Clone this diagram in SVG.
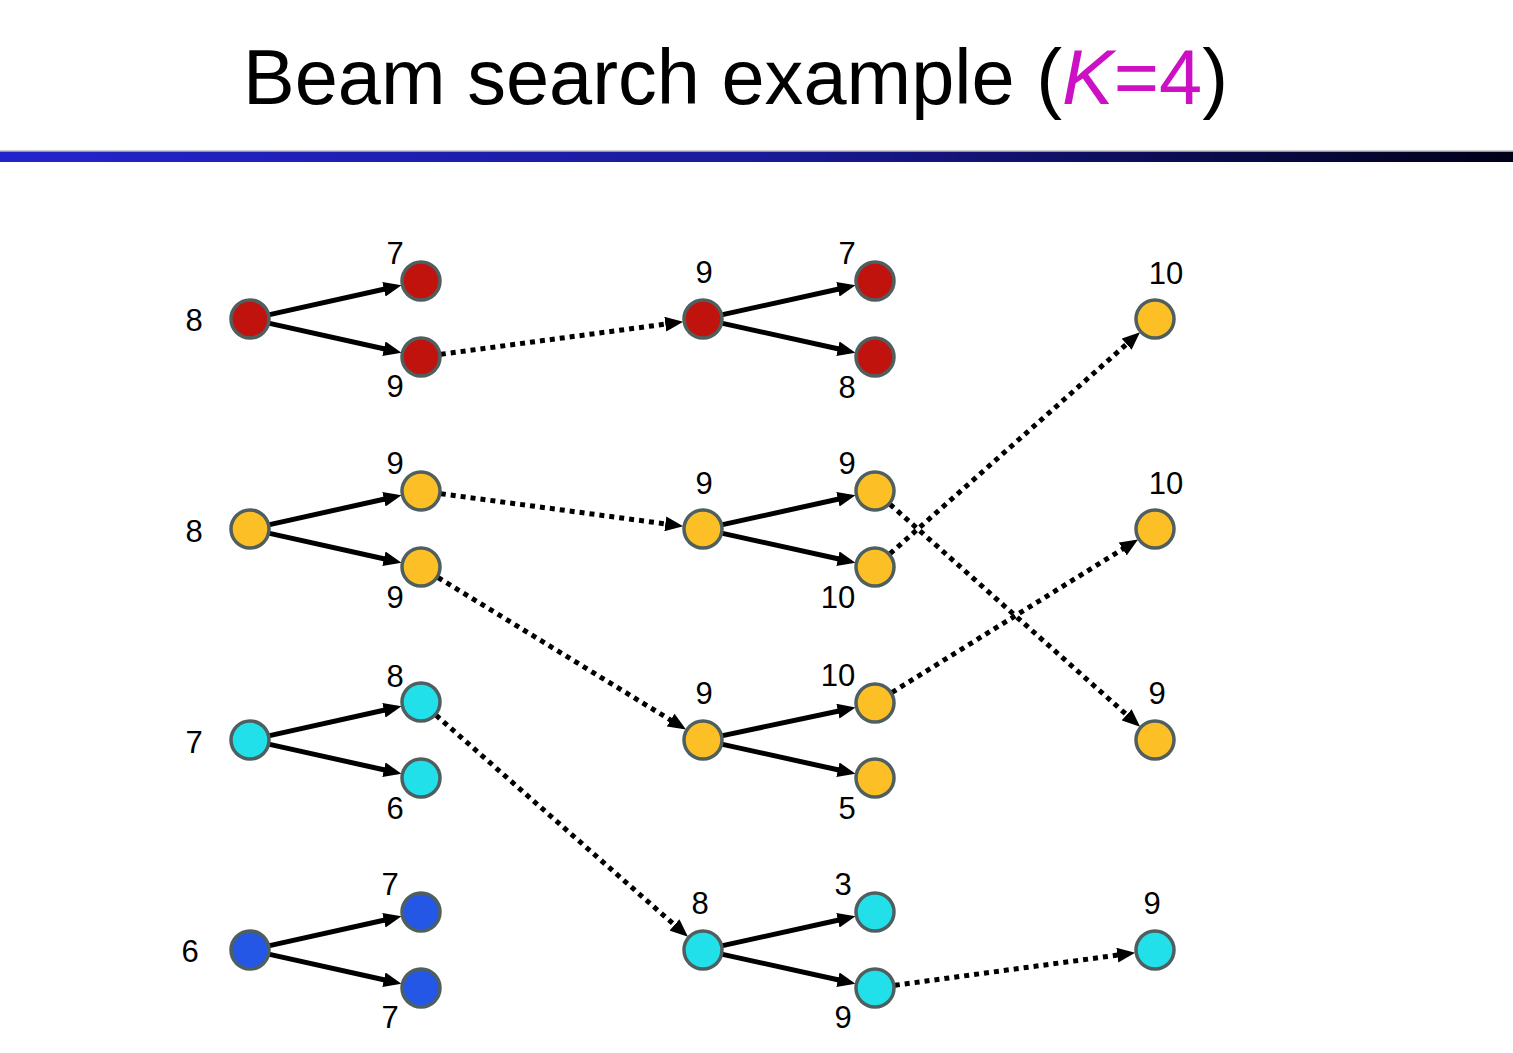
<svg xmlns="http://www.w3.org/2000/svg" width="1513" height="1053" viewBox="0 0 1513 1053">
<defs>
<linearGradient id="bar" x1="0" y1="0" x2="1" y2="0">
<stop offset="0" stop-color="#2424cc"/>
<stop offset="0.5" stop-color="#1a1a9a"/>
<stop offset="1" stop-color="#000018"/>
</linearGradient>
<marker id="ah" markerUnits="userSpaceOnUse" markerWidth="19" markerHeight="15" refX="1" refY="7.5" orient="auto">
<path d="M0,0 L18,7.5 L0,15 z" fill="#000"/>
</marker>
</defs>
<style>
.title{font-family:"Liberation Sans",Arial,sans-serif;font-size:77px;fill:#000}
.k{fill:#cc10c4}
.lbl{font-family:"Liberation Sans",Arial,sans-serif;font-size:31px;fill:#000;text-anchor:middle}
.n{stroke:#4f5f5f;stroke-width:3.5}
.red{fill:#c1130e}
.yel{fill:#fcc026}
.cyan{fill:#22e0ea}
.blue{fill:#2457e6}
.solid{fill:none;stroke:#000;stroke-width:5;marker-end:url(#ah)}
.dot{fill:none;stroke:#000;stroke-width:5;stroke-dasharray:5 5;marker-end:url(#ah)}
</style>
<rect width="1513" height="1053" fill="#fff"/>
<text class="title" x="243" y="104" textLength="985" lengthAdjust="spacingAndGlyphs">Beam search example (<tspan class="k" font-style="italic">K</tspan><tspan class="k">=4</tspan>)</text>
<rect x="0" y="150.5" width="1513" height="1.5" fill="#999"/>
<rect x="0" y="152" width="1513" height="10" fill="url(#bar)"/>

<g id="connectors">
<path class="solid" d="M268.5,314.9 L384.9,289"/>
<path class="solid" d="M268.5,323.1 L384.9,349"/>
<path class="solid" d="M268.5,524.9 L384.9,499"/>
<path class="solid" d="M268.5,533.1 L384.9,559"/>
<path class="solid" d="M268.5,735.9 L384.9,710"/>
<path class="solid" d="M268.5,744.1 L384.9,770"/>
<path class="solid" d="M268.5,945.9 L384.9,920"/>
<path class="solid" d="M268.5,954.1 L384.9,980"/>
<path class="solid" d="M721.5,314.9 L838.9,289"/>
<path class="solid" d="M721.5,323.1 L838.9,349"/>
<path class="solid" d="M721.5,524.9 L838.9,499"/>
<path class="solid" d="M721.5,533.1 L838.9,559"/>
<path class="solid" d="M721.5,735.9 L838.9,711"/>
<path class="solid" d="M721.5,744.1 L838.9,770"/>
<path class="solid" d="M721.5,945.9 L838.9,920"/>
<path class="solid" d="M721.5,954.1 L838.9,980"/>
<path class="dot" d="M440.8,354.3 L666.3,324"/>
<path class="dot" d="M440.8,493.7 L666.3,524"/>
<path class="dot" d="M438,577.5 L671.5,720.6"/>
<path class="dot" d="M436,715.2 L675.2,925.6"/>
<path class="dot" d="M890,553.7 L1127.3,343.5"/>
<path class="dot" d="M890,504.3 L1127.4,715.4"/>
<path class="dot" d="M892,692.4 L1123.6,548.5"/>
<path class="dot" d="M894.8,985.3 L1118.3,955"/>
</g>

<g id="n_r1"><circle class="n red" cx="250" cy="319" r="19"/><text class="lbl" x="194" y="331">8</text></g>
<g id="n_r1a"><circle class="n red" cx="421" cy="281" r="19"/><text class="lbl" x="395" y="264">7</text></g>
<g id="n_r1b"><circle class="n red" cx="421" cy="357" r="19"/><text class="lbl" x="395" y="397">9</text></g>
<g id="n_y1"><circle class="n yel" cx="250" cy="529" r="19"/><text class="lbl" x="194" y="542">8</text></g>
<g id="n_y1a"><circle class="n yel" cx="421" cy="491" r="19"/><text class="lbl" x="395" y="474">9</text></g>
<g id="n_y1b"><circle class="n yel" cx="421" cy="567" r="19"/><text class="lbl" x="395" y="608">9</text></g>
<g id="n_c1"><circle class="n cyan" cx="250" cy="740" r="19"/><text class="lbl" x="194" y="753">7</text></g>
<g id="n_c1a"><circle class="n cyan" cx="421" cy="702" r="19"/><text class="lbl" x="395" y="687">8</text></g>
<g id="n_c1b"><circle class="n cyan" cx="421" cy="778" r="19"/><text class="lbl" x="395" y="819">6</text></g>
<g id="n_b1"><circle class="n blue" cx="250" cy="950" r="19"/><text class="lbl" x="190" y="962">6</text></g>
<g id="n_b1a"><circle class="n blue" cx="421" cy="912" r="19"/><text class="lbl" x="390" y="895">7</text></g>
<g id="n_b1b"><circle class="n blue" cx="421" cy="988" r="19"/><text class="lbl" x="390" y="1028">7</text></g>

<g id="n_r2"><circle class="n red" cx="703" cy="319" r="19"/><text class="lbl" x="704" y="283">9</text></g>
<g id="n_r2a"><circle class="n red" cx="875" cy="281" r="19"/><text class="lbl" x="847" y="264">7</text></g>
<g id="n_r2b"><circle class="n red" cx="875" cy="357" r="19"/><text class="lbl" x="847" y="398">8</text></g>
<g id="n_y2"><circle class="n yel" cx="703" cy="529" r="19"/><text class="lbl" x="704" y="494">9</text></g>
<g id="n_y2a"><circle class="n yel" cx="875" cy="491" r="19"/><text class="lbl" x="847" y="474">9</text></g>
<g id="n_y2b"><circle class="n yel" cx="875" cy="567" r="19"/><text class="lbl" x="838" y="608">10</text></g>
<g id="n_y3"><circle class="n yel" cx="703" cy="740" r="19"/><text class="lbl" x="704" y="704">9</text></g>
<g id="n_y3a"><circle class="n yel" cx="875" cy="703" r="19"/><text class="lbl" x="838" y="686">10</text></g>
<g id="n_y3b"><circle class="n yel" cx="875" cy="778" r="19"/><text class="lbl" x="847" y="819">5</text></g>
<g id="n_c2"><circle class="n cyan" cx="703" cy="950" r="19"/><text class="lbl" x="700" y="914">8</text></g>
<g id="n_c2a"><circle class="n cyan" cx="875" cy="912" r="19"/><text class="lbl" x="843" y="895">3</text></g>
<g id="n_c2b"><circle class="n cyan" cx="875" cy="988" r="19"/><text class="lbl" x="843" y="1028">9</text></g>

<g id="n_f1"><circle class="n yel" cx="1155" cy="319" r="19"/><text class="lbl" x="1166" y="284">10</text></g>
<g id="n_f2"><circle class="n yel" cx="1155" cy="529" r="19"/><text class="lbl" x="1166" y="494">10</text></g>
<g id="n_f3"><circle class="n yel" cx="1155" cy="740" r="19"/><text class="lbl" x="1157" y="704">9</text></g>
<g id="n_f4"><circle class="n cyan" cx="1155" cy="950" r="19"/><text class="lbl" x="1152" y="914">9</text></g>
</svg>
